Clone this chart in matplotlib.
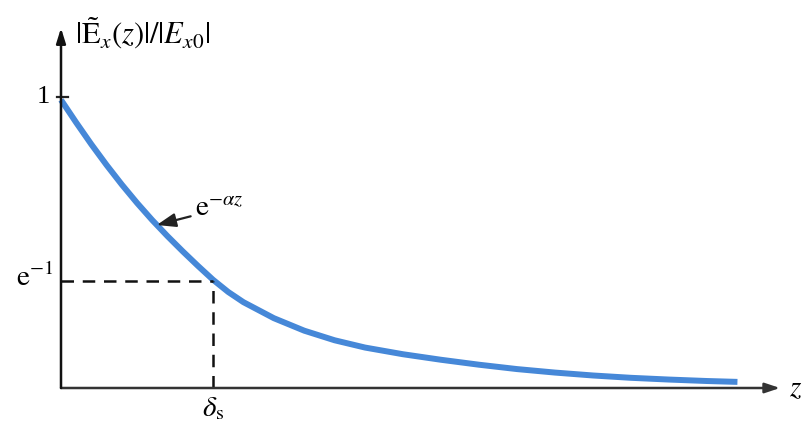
import numpy as np
import matplotlib
matplotlib.use("Agg")
import matplotlib.pyplot as plt

plt.rcParams['font.family'] = ['Liberation Serif', 'DejaVu Serif']
plt.rcParams['mathtext.fontset'] = 'stix'

## curve (z in units of skin depth)
z = [0.0, 0.1, 0.2, 0.3, 0.4, 0.5, 0.6, 0.7, 0.8, 0.9,
     1.0, 1.1, 1.2, 1.4, 1.6, 1.8, 2.0, 2.25, 2.5, 2.75,
     3.0, 3.25, 3.5, 3.75, 4.0, 4.25, 4.45]
amp = [0.99, 0.912, 0.837, 0.766, 0.699, 0.636, 0.577, 0.522, 0.470, 0.420,
       0.372, 0.330, 0.295, 0.240, 0.197, 0.164, 0.139, 0.116, 0.097, 0.080,
       0.065, 0.053, 0.043, 0.035, 0.029, 0.024, 0.021]

delta_s = 1.0
e_inv = 0.368

xmax = 4.73
ymax = 1.237

fig = plt.figure(figsize=(8.04, 4.25), dpi=100)
ax = fig.add_axes([61/804, 37/425, 719/804, 360/425])
ax.set_xlim(0, xmax)
ax.set_ylim(0, ymax)
ax.axis('off')

# axes with arrows
ax.annotate('', xy=(xmax, 0), xytext=(0, 0),
            arrowprops=dict(arrowstyle='-|>,head_length=0.9,head_width=0.3', color='#333333', lw=1.8,
                            shrinkA=0, shrinkB=0), annotation_clip=False)
ax.annotate('', xy=(0, ymax), xytext=(0, 0),
            arrowprops=dict(arrowstyle='-|>,head_length=0.9,head_width=0.28', color='#111111', lw=1.8,
                            shrinkA=0, shrinkB=0), annotation_clip=False)

# tick at 1
ax.plot([-0.025, 0.045], [1, 1], color='#222222', lw=1.6, clip_on=False)

# curve
ax.plot(z, amp, color='#4688d8', lw=4.3, solid_capstyle='butt', solid_joinstyle='round', clip_on=False)

# dashed guides
ax.plot([0, delta_s], [e_inv, e_inv], color='#111111', lw=1.8, ls=(0, (5, 3.5)))
ax.plot([delta_s, delta_s], [0, e_inv], color='#111111', lw=1.8, ls=(0, (5, 3.5)))

# labels
ax.text(-0.07, 1.0, '1', ha='right', va='center', fontsize=19)
ax.text(-0.05, e_inv + 0.01, r'$\mathrm{e}^{-1}$', ha='right', va='center', fontsize=21)
ax.text(delta_s, -0.025, r'$\delta_\mathrm{s}$', ha='center', va='top', fontsize=21)
ax.text(xmax + 0.06, -0.005, r'$z$', ha='left', va='center', fontsize=21)
ax.text(0.09, 1.22, r'$|\tilde{\mathrm{E}}_x(z)|/|E_{x0}|$', ha='left', va='center', fontsize=22)

ax.annotate(r'$\mathrm{e}^{-\alpha z}$', xy=(0.63, 0.56), xytext=(0.88, 0.615),
            fontsize=21, ha='left', va='center',
            arrowprops=dict(arrowstyle='-|>,head_length=0.55,head_width=0.2', color='#222222', lw=1.6,
                            shrinkA=1, shrinkB=0))

fig.savefig('out.png', dpi=100)
